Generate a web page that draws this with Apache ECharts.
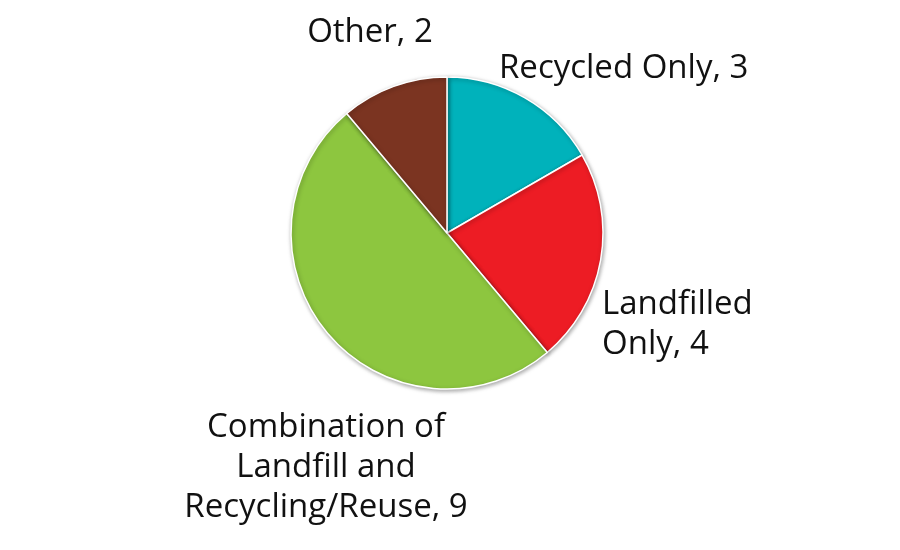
<!DOCTYPE html>
<html><head><meta charset="utf-8">
<script src="https://cdn.jsdelivr.net/npm/echarts@6/dist/echarts.min.js"></script>
<style>html,body{margin:0;padding:0;background:#fff}#c{width:900px;height:550px}</style>
</head><body><div id="c"></div>
<script>
const categories = ['Recycled Only', 'Landfilled\nOnly', 'Combination of\nLandfill and\nRecycling/Reuse', 'Other'];
const values = [3, 4, 9, 2];
const colors = ['#00b2bb', '#ed1c24', '#8dc63f', '#7b3421'];
// label anchor positions (layout only)
const labelPos = [
  {x: 499, y: 69, align: 'left'},
  {x: 602, y: 325, align: 'left'},
  {x: 326, y: 468, align: 'center'},
  {x: 370, y: 33, align: 'center'}
];
const chart = echarts.init(document.getElementById('c'), null, {renderer: 'canvas'});
chart.setOption({
  animation: false,
  series: [{
    type: 'pie',
    center: [447, 233],
    radius: [0, 156],
    startAngle: 90,
    clockwise: true,
    data: categories.map((n, i) => ({name: n, value: values[i], itemStyle: {color: colors[i]}})),
    itemStyle: {borderColor: '#fff', borderWidth: 1.5, shadowBlur: 4, shadowColor: 'rgba(0,0,0,0.35)', shadowOffsetX: 1, shadowOffsetY: 1.5},
    label: {
      show: true, position: 'outside', formatter: '{b}, {c}', overflow: 'none', alignTo: 'none',
      fontFamily: 'Open Sans', fontSize: 33, color: '#111', lineHeight: 40
    },
    labelLine: {show: false},
    labelLayout: function (p) {
      const L = labelPos[p.dataIndex];
      return {x: L.x, y: L.y, align: L.align, verticalAlign: 'middle'};
    },
    emphasis: {disabled: true}
  }]
});
</script></body></html>
